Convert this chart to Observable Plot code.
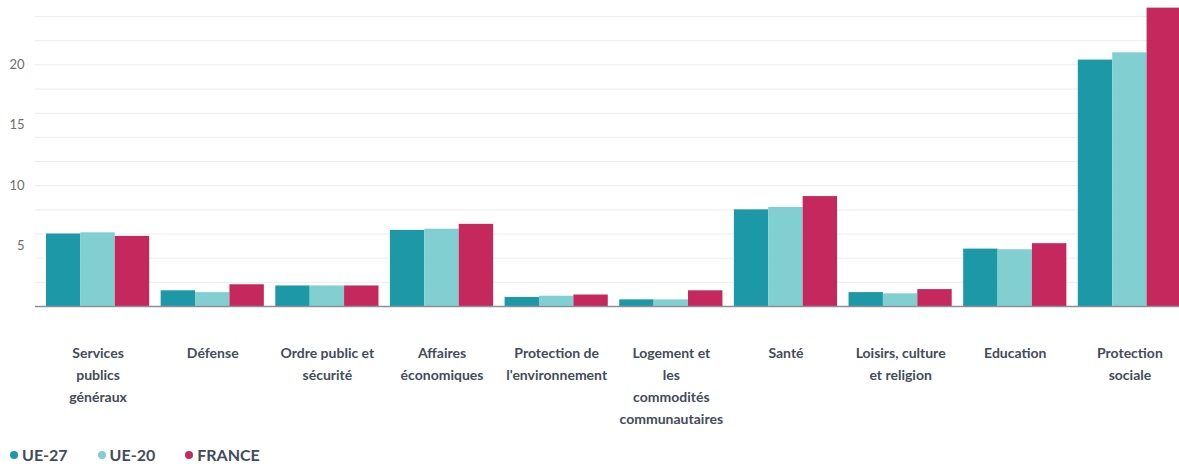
<!DOCTYPE html>
<html><head><meta charset="utf-8">
<script src="https://cdn.jsdelivr.net/npm/d3@7"></script>
<script src="https://cdn.jsdelivr.net/npm/@observablehq/plot@0.6"></script>
<style>
body{margin:0;background:#fff;font-family:Lato,sans-serif;}
#legend{display:flex;align-items:center;margin-top:16px;padding-left:10px;font-size:16px;font-weight:bold;color:#434b5a;line-height:18px;}
#legend .item{display:flex;align-items:center;margin-right:30px;}
#legend .dot{width:8px;height:8px;border-radius:50%;margin-right:4px;display:inline-block;}
</style></head><body><div id="chart"></div><div id="legend"></div>
<script>
const categories = ["Services publics généraux","Défense","Ordre public et sécurité","Affaires économiques","Protection de l'environnement","Logement et les commodités communautaires","Santé","Loisirs, culture et religion","Education","Protection sociale"];
const tickLabels = ["Services\npublics\ngénéraux","Défense","Ordre public et\nsécurité","Affaires\néconomiques","Protection de\nl'environnement","Logement et\nles\ncommodités\ncommunautaires","Santé","Loisirs, culture\net religion","Education","Protection\nsociale"];
const series = ["UE-27","UE-20","FRANCE"];
const colors = ["#1c98a7","#82cfd2","#c5285d"];
const ue27   = [6.0, 1.3, 1.7, 6.3, 0.75, 0.55, 8.0, 1.15, 4.75, 20.4];
const ue20   = [6.1, 1.15, 1.7, 6.4, 0.85, 0.55, 8.2, 1.05, 4.7, 21.0];
const france = [5.8, 1.8, 1.7, 6.8, 0.95, 1.3, 9.1, 1.4, 5.2, 24.7];
const gridTicks = [2,4,6,8,10,12,14,16,18,20,22,24];
const yTicks = [5,10,15,20];
const seriesValues = [ue27, ue20, france];

// band geometry (x scale of categories)
const xRange = [46, 1181];
const padInner = 0.1;
const step = (xRange[1] - xRange[0]) / (categories.length - padInner);
const bandwidth = step * (1 - padInner);
const sub = bandwidth / series.length;

const barMarks = series.map((s, j) =>
  Plot.barY(categories.map((c, i) => ({category: c, series: s, value: seriesValues[j][i]})), {
    x: "category", y: "value", fill: colors[j],
    insetLeft: j * sub, insetRight: (series.length - 1 - j) * sub
  })
);

const chart = Plot.plot({
  width:1179, height:430, marginLeft:35, marginRight:0, marginTop:4, marginBottom:124,
  style:{fontFamily:"Lato, sans-serif", background:"#fff"},
  x:{domain:categories, range:xRange, round:false, paddingInner:padInner, paddingOuter:0, axis:null, label:null},
  y:{domain:[0,25], axis:null, label:null},
  marks:[
    Plot.ruleY(gridTicks,{stroke:"#ececec", strokeWidth:1}),
    ...barMarks,
    Plot.ruleY([0],{stroke:"#8a8f98", strokeWidth:1.5}),
    Plot.axisY({ticks:yTicks, tickSize:0, tickPadding:11, fill:"#6d6d6d", fontSize:13, label:null}),
    Plot.axisX({anchor:"bottom", tickSize:0, tickPadding:36, fontSize:14, fontWeight:"bold", lineHeight:1.57, fill:"#434b5a", label:null, tickFormat:d=>tickLabels[categories.indexOf(d)]})
  ]
});
document.getElementById("chart").appendChild(chart);

const legend = document.getElementById("legend");
series.forEach((s,i)=>{
  const item = document.createElement("div"); item.className="item";
  const dot = document.createElement("span"); dot.className="dot"; dot.style.background=colors[i];
  const label = document.createElement("span"); label.textContent=s;
  item.appendChild(dot); item.appendChild(label); legend.appendChild(item);
});
</script></body></html>
